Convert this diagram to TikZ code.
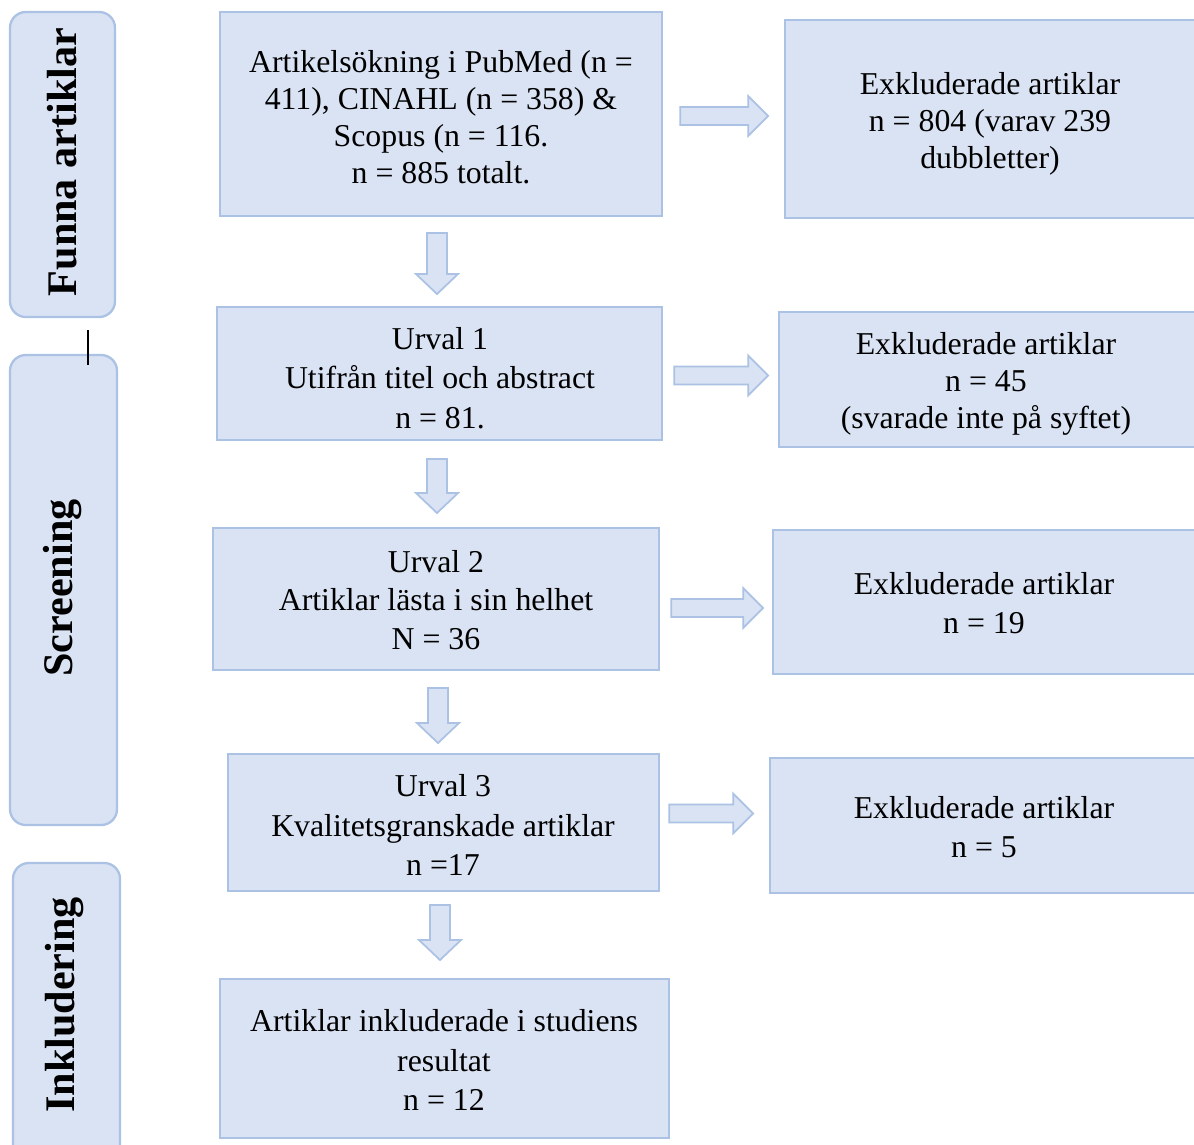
\documentclass[tikz,border=0pt]{standalone}
\usepackage{fontspec}
\setmainfont{Liberation Serif}
\usetikzlibrary{fit,calc}
\definecolor{boxfill}{RGB}{218,227,243}
\definecolor{boxline}{RGB}{172,194,228}
\newcommand\harrow[2]{% start coordinate, length
  \begin{scope}[shift={(#1)}]
    \draw[barrow] (0,-9) -- (#2-20,-9) -- (#2-20,-20) -- (#2,0) -- (#2-20,20) -- (#2-20,9) -- (0,9) -- cycle;
  \end{scope}}
\newcommand\varrow[2]{% start coordinate, length (downwards)
  \begin{scope}[shift={(#1)}]
    \draw[barrow] (-10,0) -- (-10,#2-20) -- (-21,#2-20) -- (0,#2) -- (21,#2-20) -- (10,#2-20) -- (10,0) -- cycle;
  \end{scope}}
\begin{document}
\begin{tikzpicture}[x=0.02cm,y=-0.02cm,
  box/.style={draw=boxline, fill=boxfill, line width=1.3pt, inner sep=0pt},
  txt/.style={align=center, font=\fontsize{18.1}{22.6}\selectfont},
  side/.style={draw=boxline, fill=boxfill, line width=1.3pt, inner sep=0pt, rounded corners=9pt},
  sidetext/.style={rotate=90, font=\fontsize{24}{26}\selectfont\bfseries},
  barrow/.style={draw=boxline, fill=boxfill, line width=1pt, line join=miter}]
\clip (0,0) rectangle (1194,1144);
\fill[white] (0,0) rectangle (1194,1144);

% side labels
\node[side, fit={(10,12) (115,317)}] (s1) {};
\node[sidetext] (s1t) at (62,162) {Funna artiklar};
\node[side, fit={(10,355) (117,825)}] (s2) {};
\node[sidetext] (s2t) at (63,588) {Screening};
\node[side, fit={(13,863) (120,1160)}] (s3) {};
\node[sidetext] (s3t) at (65,1005) {Inkludering};
\coordinate (tickA) at (88,330);
\coordinate (tickB) at (88,365);
\draw[line width=0.8pt] (tickA) -- (tickB);

% main column
\node[box, fit={(220,12) (662,216)}] (b1) {};
\node[txt, font=\fontsize{18.1}{21}\selectfont] (t1) at (441,117) {Artikelsökning i PubMed (n =\\411), CINAHL (n = 358) \&\\Scopus (n = 116.\\n = 885 totalt.};
\node[box, fit={(217,307) (662,440)}] (b2) {};
\node[txt] (t2) at (440,378) {Urval 1\\Utifrån titel och abstract\\n = 81.};
\node[box, fit={(213,528) (659,670)}] (b3) {};
\node[txt, font=\fontsize{18.1}{22}\selectfont] (t3) at (436,600) {Urval 2\\Artiklar lästa i sin helhet\\N = 36};
\node[box, fit={(228,754) (659,891)}] (b4) {};
\node[txt] (t4) at (443,825) {Urval 3\\Kvalitetsgranskade artiklar\\n =17};
\node[box, fit={(220,979) (669,1138)}] (b5) {};
\node[txt] (t5) at (444,1060) {Artiklar inkluderade i studiens\\resultat\\n = 12};

% excluded column
\node[box, fit={(785,20) (1210,218)}] (e1) {};
\node[txt, font=\fontsize{18.1}{21}\selectfont] (u1) at (990,124) {Exkluderade artiklar\\n = 804 (varav 239\\dubbletter)};
\node[box, fit={(779,312) (1210,447)}] (e2) {};
\node[txt, font=\fontsize{18.1}{21}\selectfont] (u2) at (986,384) {Exkluderade artiklar\\n = 45\\(svarade inte på syftet)};
\node[box, fit={(773,530) (1210,674)}] (e3) {};
\node[txt] (u3) at (984,603) {Exkluderade artiklar\\n = 19};
\node[box, fit={(770,758) (1210,893)}] (e4) {};
\node[txt] (u4) at (984,827) {Exkluderade artiklar\\n = 5};

% horizontal block arrows
\coordinate (h1) at ($(b1.east)+(17,2)$);
\harrow{h1}{88}
\coordinate (h2) at ($(b2.east)+(11,2)$);
\harrow{h2}{94}
\coordinate (h3) at ($(b3.east)+(11,9)$);
\harrow{h3}{92}
\coordinate (h4) at ($(b4.east)+(9,-9)$);
\harrow{h4}{84}

% vertical block arrows
\coordinate (v1) at (437,233);
\varrow{v1}{61}
\coordinate (v2) at (437,459);
\varrow{v2}{54}
\coordinate (v3) at (438,688);
\varrow{v3}{55}
\coordinate (v4) at (440,905);
\varrow{v4}{55}
\end{tikzpicture}
\end{document}
